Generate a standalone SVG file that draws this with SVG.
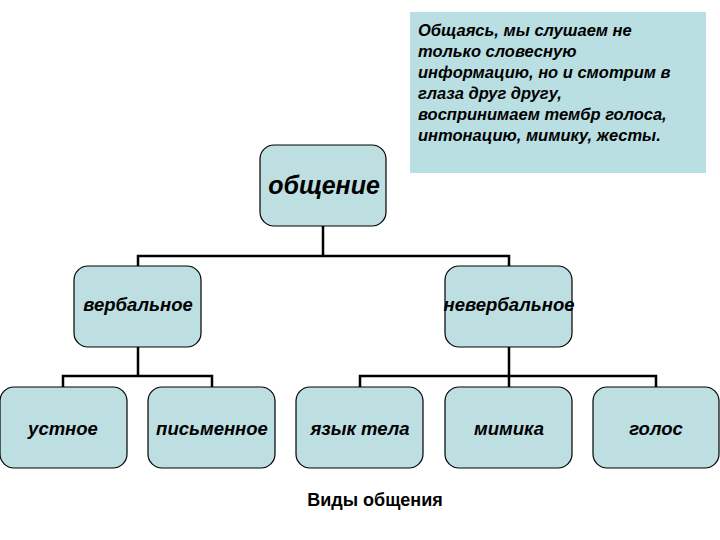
<svg xmlns="http://www.w3.org/2000/svg" width="720" height="540" viewBox="0 0 720 540">
<style>
.n{fill:#bddfe2;stroke:#000;stroke-width:1.2}
.t{font-family:"Liberation Sans",Arial,sans-serif;font-style:italic;font-weight:bold;font-size:18.5px;text-anchor:middle}
.c{fill:none;stroke:#000;stroke-width:2.5}
.p{font-family:"Liberation Sans",Arial,sans-serif;font-style:italic;font-weight:bold;font-size:16.5px}
</style>
<rect width="720" height="540" fill="#fff"/>
<g id="note">
<rect x="410" y="12" width="296" height="161" fill="#b9dfe2"/>
<text class="p" x="418" y="36">Общаясь, мы слушаем не</text>
<text class="p" x="418" y="57">только словесную</text>
<text class="p" x="418" y="78">информацию, но и смотрим в</text>
<text class="p" x="418" y="99">глаза друг другу,</text>
<text class="p" x="418" y="120">воспринимаем тембр голоса,</text>
<text class="p" x="418" y="141">интонацию, мимику, жесты.</text>
</g>
<g id="connectors">
<path class="c" d="M323 226V256M138 266V256H509V266"/>
<path class="c" d="M138 347V376M63 387V376H212V387"/>
<path class="c" d="M509 347V376M360 387V376H656V387M509 376V387"/>
</g>
<g id="obshchenie"><rect class="n" x="260" y="145" width="126" height="81" rx="14"/><text class="t" x="324" y="194" style="font-size:25px">общение</text></g>
<g id="verbal"><rect class="n" x="74" y="266" width="127" height="81" rx="14"/><text class="t" x="138" y="311">вербальное</text></g>
<g id="neverbal"><rect class="n" x="445" y="266" width="127" height="81" rx="14"/><text class="t" x="509" y="311">невербальное</text></g>
<g id="ustnoe"><rect class="n" x="0" y="387" width="127" height="81" rx="14"/><text class="t" x="63" y="435">устное</text></g>
<g id="pismennoe"><rect class="n" x="148" y="387" width="127" height="81" rx="14"/><text class="t" x="212" y="435">письменное</text></g>
<g id="yazyk"><rect class="n" x="296" y="387" width="127" height="81" rx="14"/><text class="t" x="360" y="435">язык тела</text></g>
<g id="mimika"><rect class="n" x="445" y="387" width="127" height="81" rx="14"/><text class="t" x="509" y="435">мимика</text></g>
<g id="golos"><rect class="n" x="593" y="387" width="126" height="81" rx="14"/><text class="t" x="656" y="435">голос</text></g>
<text x="375" y="506" style="font-family:'Liberation Sans',Arial,sans-serif;font-weight:bold;font-size:18px;text-anchor:middle">Виды общения</text>
</svg>
